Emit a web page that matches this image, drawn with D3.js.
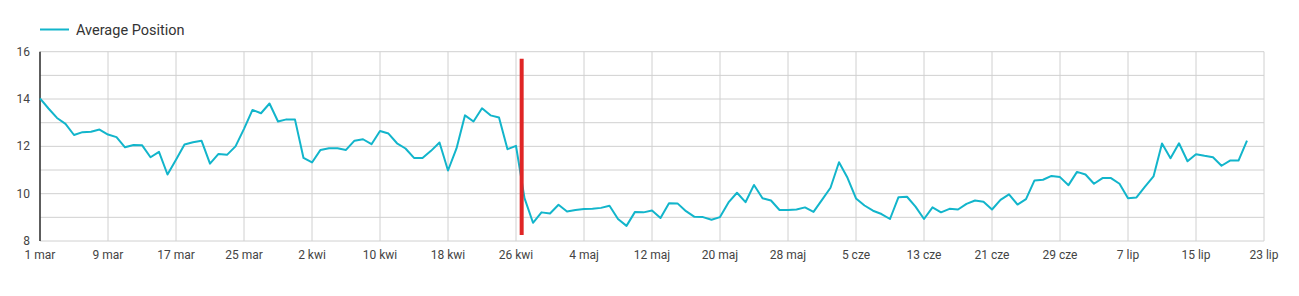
<!DOCTYPE html>
<html>
<head>
<meta charset="utf-8">
<script src="https://cdn.jsdelivr.net/npm/d3@7"></script>
<style>
  body { margin: 0; background: #fff; font-family: Roboto, sans-serif; }
</style>
</head>
<body>
<div id="chart"></div>
<script>
// daily values, 1 mar .. 21 lip
const startDate = '2020-03-01'
const avgPosition = [
  14.03, 13.6, 13.2, 12.95, 12.48, 12.6, 12.62, 12.71, 12.5, 12.39,
  11.96, 12.06, 12.05, 11.54, 11.77, 10.81, 11.43, 12.08, 12.17, 12.24,
  11.27, 11.68, 11.64, 12.0, 12.74, 13.54, 13.4, 13.81, 13.05, 13.14,
  13.13, 11.51, 11.32, 11.85, 11.92, 11.92, 11.85, 12.24, 12.3, 12.09,
  12.65, 12.54, 12.13, 11.91, 11.51, 11.51, 11.81, 12.16, 10.98, 11.91,
  13.31, 13.05, 13.61, 13.31, 13.22, 11.88, 12.02, 9.81, 8.77, 9.21,
  9.16, 9.53, 9.25, 9.31, 9.35, 9.36, 9.4, 9.49, 8.93, 8.64,
  9.23, 9.21, 9.29, 8.97, 9.6, 9.59, 9.26, 9.02, 9.01, 8.9,
  9.01, 9.63, 10.04, 9.64, 10.37, 9.81, 9.71, 9.31, 9.31, 9.33,
  9.42, 9.23, 9.74, 10.25, 11.33, 10.67, 9.8, 9.5, 9.28, 9.14,
  8.93, 9.85, 9.87, 9.45, 8.93, 9.42, 9.21, 9.36, 9.33, 9.57,
  9.71, 9.66, 9.33, 9.74, 9.97, 9.54, 9.77, 10.56, 10.59, 10.75,
  10.7, 10.36, 10.92, 10.81, 10.42, 10.66, 10.66, 10.42, 9.81, 9.84,
  10.3, 10.73, 12.12, 11.5, 12.13, 11.37, 11.67, 11.6, 11.54, 11.18,
  11.4, 11.4, 12.24
]
const months = ['sty', 'lut', 'mar', 'kwi', 'maj', 'cze', 'lip', 'sie', 'wrz', 'paź', 'lis', 'gru']
const yTicks = [8, 10, 12, 14, 16]
const markerDate = '2020-04-26T16:00'
const markerRange = [8.25, 15.7]

const width = 1299
const height = 296
const margin = { top: 51.7, right: 35, bottom: 55, left: 40 }

const parse = d3.isoParse
const t0 = parse(startDate)
const data = avgPosition.map((v, i) => ({ date: d3.timeDay.offset(t0, i), value: v }))

const svg = d3.select('#chart')
  .append('svg')
  .attr('width', width)
  .attr('height', height)

const x = d3.scaleTime()
  .domain([t0, d3.timeDay.offset(t0, 144)])
  .range([margin.left, width - margin.right])

const y = d3.scaleLinear()
  .domain([8, 16])
  .range([height - margin.bottom, margin.top])

const xTicks = d3.range(0, 145, 8).map(i => d3.timeDay.offset(t0, i))
const fmt = d => d.getDate() + ' ' + months[d.getMonth()]

// horizontal grid every 1
svg.append('g')
  .selectAll('line')
  .data(d3.range(8, 17, 1))
  .join('line')
  .attr('x1', margin.left)
  .attr('x2', width - margin.right)
  .attr('y1', d => y(d))
  .attr('y2', d => y(d))
  .attr('stroke', '#d0d0d0')
  .attr('stroke-width', 1)

// vertical grid
svg.append('g')
  .selectAll('line')
  .data(xTicks)
  .join('line')
  .attr('x1', d => x(d))
  .attr('x2', d => x(d))
  .attr('y1', y(16))
  .attr('y2', y(8))
  .attr('stroke', '#d0d0d0')
  .attr('stroke-width', 1)

// x labels
svg.append('g')
  .selectAll('text')
  .data(xTicks)
  .join('text')
  .attr('x', d => x(d))
  .attr('y', y(8) + 18)
  .attr('text-anchor', 'middle')
  .attr('font-size', 12)
  .attr('fill', '#444')
  .text(fmt)

// y labels
svg.append('g')
  .selectAll('text')
  .data(yTicks)
  .join('text')
  .attr('x', 30)
  .attr('y', d => y(d) + 4)
  .attr('text-anchor', 'end')
  .attr('font-size', 12)
  .attr('fill', '#444')
  .text(d => d)

// left axis line
svg.append('line')
  .attr('x1', margin.left)
  .attr('x2', margin.left)
  .attr('y1', y(16))
  .attr('y2', y(8))
  .attr('stroke', '#000')
  .attr('stroke-width', 1.2)

const line = d3.line()
  .x(d => x(d.date))
  .y(d => y(d.value))

svg.append('path')
  .datum(data)
  .attr('fill', 'none')
  .attr('stroke', '#12b5cb')
  .attr('stroke-width', 2)
  .attr('stroke-linejoin', 'round')
  .attr('d', line)

// red marker
svg.append('line')
  .attr('x1', x(parse(markerDate)))
  .attr('x2', x(parse(markerDate)))
  .attr('y1', y(markerRange[1]))
  .attr('y2', y(markerRange[0]))
  .attr('stroke', '#e02626')
  .attr('stroke-width', 4)

// legend
const legend = svg.append('g')
legend.append('line')
  .attr('x1', 40).attr('x2', 69)
  .attr('y1', 29.5).attr('y2', 29.5)
  .attr('stroke', '#12b5cb')
  .attr('stroke-width', 2)
legend.append('text')
  .attr('x', 76)
  .attr('y', 35)
  .attr('font-size', 14.5)
  .attr('fill', '#333')
  .text('Average Position')
</script>
</body>
</html>
